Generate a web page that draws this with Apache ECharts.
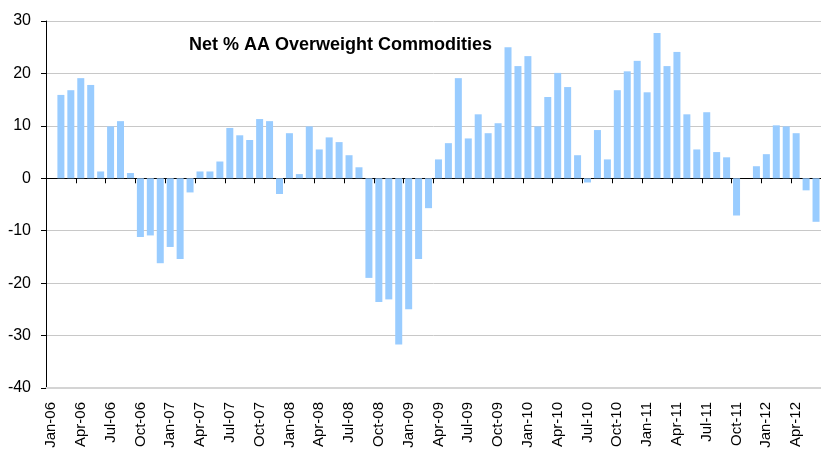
<!DOCTYPE html>
<html>
<head>
<meta charset="utf-8">
<script src="https://cdn.jsdelivr.net/npm/echarts@6/dist/echarts.min.js"></script>
<style>
  html, body { margin: 0; padding: 0; background: #fff; }
  #main { width: 821px; height: 453px; }
</style>
</head>
<body>
<div id="main"></div>
<script>
var titleText = 'Net % AA Overweight Commodities';

var years = ['06', '07', '08', '09', '10', '11', '12'];
var monthNames = ['Jan', 'Feb', 'Mar', 'Apr', 'May', 'Jun', 'Jul', 'Aug', 'Sep', 'Oct', 'Nov', 'Dec'];

// Jan-06 .. Jun-12, monthly
var months = [];
years.forEach(function (y) {
  monthNames.forEach(function (m) {
    months.push(m + '-' + y);
  });
});
months = months.slice(0, 78);

var values2006 = [null, 15.9, 16.8, 19.1, 17.8, 1.3, 9.9, 10.9, 1.0, -11.2, -10.9, -16.2];
var values2007 = [-13.1, -15.4, -2.7, 1.3, 1.3, 3.2, 9.6, 8.2, 7.3, 11.3, 10.9, -3.0];
var values2008 = [8.6, 0.8, 9.9, 5.5, 7.8, 6.9, 4.4, 2.1, -19.0, -23.6, -23.1, -31.7];
var values2009 = [-25.0, -15.4, -5.7, 3.6, 6.7, 19.1, 7.6, 12.2, 8.6, 10.5, 25.0, 21.4];
var values2010 = [23.3, 9.9, 15.5, 20.1, 17.4, 4.4, -0.8, 9.2, 3.6, 16.8, 20.4, 22.4];
var values2011 = [16.4, 27.7, 21.4, 24.1, 12.2, 5.5, 12.6, 5.0, 4.0, -7.1, null, 2.3];
var values2012 = [4.6, 10.1, 9.9, 8.6, -2.3, -8.3];

var values = [].concat(values2006, values2007, values2008, values2009, values2010, values2011, values2012);

var chart = echarts.init(document.getElementById('main'), null, { renderer: 'canvas' });

var font = 'Liberation Sans, Arial, sans-serif';

var option = {
  animation: false,
  backgroundColor: '#ffffff',
  title: {
    text: titleText,
    left: 189,
    top: 36,
    padding: 0,
    textStyle: {
      fontFamily: font,
      fontSize: 18,
      fontWeight: 'bold',
      color: '#000'
    }
  },
  grid: {
    left: 46,
    top: 21,
    width: 780,
    height: 367
  },
  xAxis: [{
    type: 'category',
    data: months,
    boundaryGap: true,
    axisLine: { onZero: true, lineStyle: { color: '#000', width: 1 } },
    axisTick: { show: true, interval: 2, length: 5, lineStyle: { color: '#000' } },
    axisLabel: { show: false },
    splitLine: { show: false }
  }, {
    type: 'category',
    data: months,
    position: 'bottom',
    boundaryGap: true,
    axisLine: { onZero: false, show: true, lineStyle: { color: '#d4d4d4', width: 2 } },
    axisTick: { show: false },
    axisLabel: {
      interval: 2,
      rotate: 90,
      margin: 14,
      fontFamily: font,
      fontSize: 15,
      color: '#000'
    },
    splitLine: { show: false }
  }],
  yAxis: {
    type: 'value',
    min: -40,
    max: 30,
    interval: 10,
    axisLine: { show: true, lineStyle: { color: '#000', width: 1 } },
    axisTick: { show: true, length: 5, lineStyle: { color: '#000' } },
    axisLabel: {
      margin: 15,
      fontFamily: font,
      fontSize: 16,
      color: '#000'
    },
    splitLine: { show: true, lineStyle: { color: '#c8c8c8', width: 1 } }
  },
  series: [{
    type: 'bar',
    xAxisIndex: 0,
    data: values,
    barWidth: 7,
    itemStyle: { color: '#99ccff' }
  }]
};

chart.setOption(option);
</script>
</body>
</html>
